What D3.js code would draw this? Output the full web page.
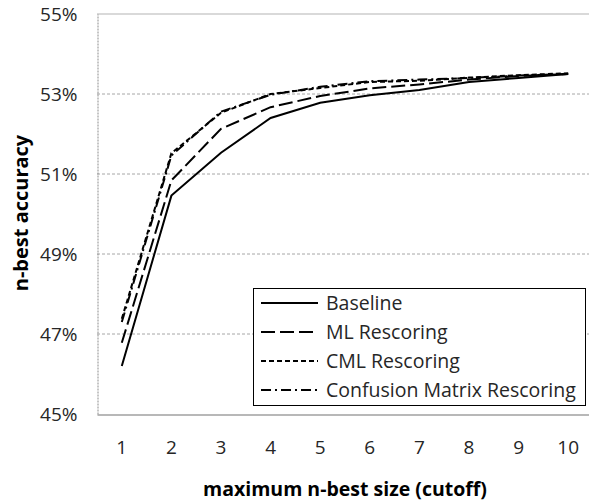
<!DOCTYPE html>
<html>
<head>
<meta charset="utf-8">
<script src="https://cdn.jsdelivr.net/npm/d3@7"></script>
<style>
  body { margin: 0; background: #fff; }
  svg { display: block; font-family: "Open Sans", sans-serif; }
</style>
</head>
<body>
<svg id="chart" width="589" height="503"></svg>
<script>
// data
const cutoffs = [1, 2, 3, 4, 5, 6, 7, 8, 9, 10];
const baseline = [46.2, 50.46, 51.53, 52.4, 52.78, 52.97, 53.1, 53.3, 53.4, 53.5];
const mlRescoring = [46.78, 50.84, 52.13, 52.67, 52.95, 53.14, 53.24, 53.36, 53.45, 53.5];
const cmlRescoring = [47.38, 51.52, 52.53, 53.0, 53.15, 53.3, 53.33, 53.41, 53.47, 53.52];
const confusionRescoring = [47.3, 51.46, 52.56, 52.98, 53.18, 53.32, 53.36, 53.4, 53.46, 53.5];
const yTicks = [45, 47, 49, 51, 53, 55];

const seriesNames = ["Baseline", "ML Rescoring", "CML Rescoring", "Confusion Matrix Rescoring"];
const seriesValues = [baseline, mlRescoring, cmlRescoring, confusionRescoring];
const dashes = [null, "14,5", "5,3", "10,4,2,4"];

const svg = d3.select("#chart");

const x = d3.scaleBand().domain(cutoffs).range([97, 593]).padding(0);
const xc = d => x(d) + x.bandwidth() / 2;
const y = d3.scaleLinear().domain([45, 55]).range([414, 14]);

// gridlines
svg.append("g")
  .selectAll("line")
  .data(yTicks.filter(t => t > 45 && t < 55))
  .join("line")
  .attr("x1", 97).attr("x2", 593)
  .attr("y1", d => y(d)).attr("y2", d => y(d))
  .attr("stroke", "#a6a6a6")
  .attr("stroke-dasharray", "3,2")
  .attr("stroke-width", 1);

// top border
svg.append("line")
  .attr("x1", 97).attr("x2", 593)
  .attr("y1", y(55)).attr("y2", y(55))
  .attr("stroke", "#b3b3b3");

// y axis (dotted)
const yAxis = svg.append("g")
  .attr("transform", "translate(97.5,0)")
  .call(d3.axisLeft(y).tickValues(yTicks).tickSize(0).tickPadding(20).tickFormat(d => d + "%"));
yAxis.select(".domain").attr("stroke", "#8c8c8c").attr("stroke-dasharray", "2,1");
yAxis.selectAll("text")
  .attr("fill", "#262626")
  .style("font-size", "19px")
  .style("font-family", "'Open Sans', sans-serif");

// x axis
const xAxis = svg.append("g")
  .attr("transform", "translate(0,414.5)")
  .call(d3.axisBottom(x).tickSize(0).tickPadding(26));
xAxis.select(".domain").attr("stroke", "#a0a0a0").attr("stroke-width", 1.5);
xAxis.selectAll("text")
  .attr("fill", "#262626")
  .style("font-size", "19px")
  .style("font-family", "'Open Sans', sans-serif");

// lines
const line = d3.line()
  .x((d, i) => xc(cutoffs[i]))
  .y(d => y(d));

svg.append("g")
  .selectAll("path")
  .data(seriesValues)
  .join("path")
  .attr("d", d => line(d))
  .attr("fill", "none")
  .attr("stroke", "#000")
  .attr("stroke-width", 2)
  .attr("stroke-dasharray", (d, i) => dashes[i]);

// legend
const legend = svg.append("g");
legend.append("rect")
  .attr("x", 253.5).attr("y", 288.5)
  .attr("width", 332).attr("height", 117)
  .attr("fill", "#fff")
  .attr("stroke", "#000")
  .attr("stroke-width", 1);

const items = legend.selectAll("g.item")
  .data(seriesNames)
  .join("g")
  .attr("class", "item")
  .attr("transform", (d, i) => `translate(0,${303 + i * 29})`);

items.append("line")
  .attr("x1", 261).attr("x2", 318)
  .attr("stroke", "#000")
  .attr("stroke-width", 2)
  .attr("stroke-dasharray", (d, i) => dashes[i]);

items.append("text")
  .attr("x", 326)
  .attr("dy", "0.35em")
  .attr("fill", "#262626")
  .style("font-size", "19.5px")
  .text(d => d);

// axis titles
svg.append("text")
  .attr("x", 345).attr("y", 496)
  .attr("text-anchor", "middle")
  .attr("fill", "#000")
  .style("font-size", "19.5px")
  .style("font-weight", "bold")
  .text("maximum n-best size (cutoff)");

svg.append("text")
  .attr("transform", "translate(28,213) rotate(-90)")
  .attr("text-anchor", "middle")
  .attr("fill", "#000")
  .style("font-size", "20px")
  .style("font-weight", "bold")
  .text("n-best accuracy");
</script>
</body>
</html>
